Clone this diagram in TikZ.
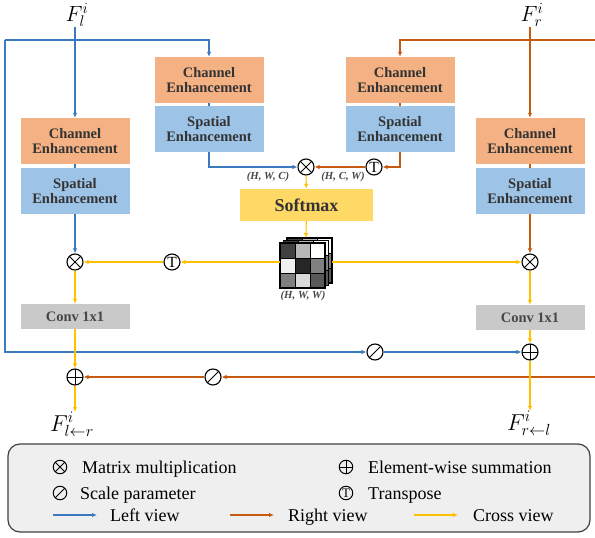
\RequirePackage{fix-cm}
\documentclass[tikz,border=0pt]{standalone}
\usepackage{fontspec}
\setmainfont{Liberation Serif}
\usetikzlibrary{arrows.meta,calc}

\definecolor{lview}{HTML}{3A7BBF}
\definecolor{rview}{HTML}{C55A11}
\definecolor{xview}{HTML}{FFC000}
\definecolor{chfill}{HTML}{F4B183}
\definecolor{spfill}{HTML}{9DC3E6}
\definecolor{smfill}{HTML}{FFD966}
\definecolor{cvfill}{HTML}{C9C9C9}
\definecolor{lgfill}{HTML}{EFEFEF}
\definecolor{boxtext}{HTML}{333333}

\tikzset{
  flow/.style={line width=1.1pt, -{Latex[length=5pt,width=4.5pt]}},
  link/.style={line width=1.1pt},
  block/.style={minimum width=109pt, minimum height=46pt, inner sep=0pt,
    align=center, text=boxtext, font=\bfseries\fontsize{14.5}{15.5}\selectfont},
  chan/.style={block, fill=chfill},
  spat/.style={block, fill=spfill},
  convbox/.style={block, fill=cvfill, minimum height=25pt, text=black!72},
  softbox/.style={fill=smfill, minimum width=133pt, minimum height=32pt, inner sep=0pt,
    text=boxtext, font=\bfseries\fontsize{18}{18}\selectfont},
  op/.style={circle, draw=black, line width=1.1pt, minimum size=16pt, inner sep=0pt},
  mulop/.style={op, path picture={
    \draw[line width=1pt] (path picture bounding box.north west) -- (path picture bounding box.south east)
      (path picture bounding box.north east) -- (path picture bounding box.south west);}},
  addop/.style={op, path picture={
    \draw[line width=1pt] (path picture bounding box.north) -- (path picture bounding box.south)
      (path picture bounding box.west) -- (path picture bounding box.east);}},
  sclop/.style={op, path picture={
    \draw[line width=1pt] (path picture bounding box.south west) -- (path picture bounding box.north east);}},
  trnop/.style={op, font=\fontsize{15.5}{15.5}\selectfont},
  keysym/.style={minimum size=13.5pt, line width=1pt},
  dimlabel/.style={inner sep=0pt, text=black!72, font=\bfseries\itshape\fontsize{10.8}{10.8}\selectfont},
  featlabel/.style={inner sep=0pt, font=\fontsize{22}{22}\selectfont},
  keytext/.style={inner sep=0pt, anchor=base west, font=\fontsize{18}{18}\selectfont},
  cell/.style={draw=black, line width=0.8pt},
}

\begin{document}
\begin{tikzpicture}[x=1pt,y=-1pt]
\useasboundingbox (0,0) rectangle (595,538);

% feature inputs
\node[featlabel, anchor=south] (Fl) at (77,27) {$F_l^i$};
\node[featlabel, anchor=south] (Fr) at (532,27) {$F_r^i$};

% enhancement blocks
\node[chan] (chL) at (75,141) {Channel\\Enhancement};
\node[spat] (spL) at (75,191) {Spatial\\Enhancement};
\node[chan] (chA) at (209,80) {Channel\\Enhancement};
\node[spat] (spA) at (209,129) {Spatial\\Enhancement};
\node[chan] (chB) at (400,80) {Channel\\Enhancement};
\node[spat] (spB) at (400,129) {Spatial\\Enhancement};
\node[chan] (chR) at (530,141) {Channel\\Enhancement};
\node[spat] (spR) at (530,191) {Spatial\\Enhancement};

% attention branch
\node[mulop] (mT) at (306,167) {};
\node[trnop] (tB) at (374,167) {T};
\node[dimlabel] at (268,177) {(H, W, C)};
\node[dimlabel] at (343,177) {(H, C, W)};
\node[softbox] (sm) at (306.5,205) {Softmax};

% attention map (stacked 3x3 slices)
\foreach \dx/\dy in {7/-5, 3.5/-2.5, 0/0} {
  \foreach \r/\c/\g in {0/0/75, 0/1/28, 0/2/0, 1/0/6, 1/1/85, 1/2/50, 2/0/50, 2/1/15, 2/2/65}
    \filldraw[cell, fill=black!\g] ({280+\dx+15*\c},{243+\dy+15*\r}) rectangle ++(15,15);
  \draw[line width=1.1pt] ({280+\dx},{243+\dy}) rectangle ++(45,45);
}
\node[minimum size=45pt, inner sep=0pt] (cube) at (302.5,265.5) {};
\coordinate (cubeT) at (306,238);
\coordinate (cubeR) at (332,262);
\node[dimlabel] at (303,296) {(H, W, W)};

% fusion operators
\node[mulop] (mL) at (75,262) {};
\node[trnop] (tL) at (172,262) {T};
\node[mulop] (mR) at (530,262) {};
\node[convbox] (cvL) at (75,316.5) {Conv 1x1};
\node[convbox] (cvR) at (530,317.5) {Conv 1x1};
\node[addop] (pR) at (530,352) {};
\node[sclop] (sR) at (375,352) {};
\node[addop] (pL) at (75,377) {};
\node[sclop] (sL) at (213,377) {};

% outputs
\node[featlabel, anchor=north, font=\fontsize{23}{23}\selectfont] (FoL) at (72,412) {$F_{l\leftarrow r}^i$};
\node[featlabel, anchor=north, font=\fontsize{23}{23}\selectfont] (FoR) at (529,411) {$F_{r\leftarrow l}^i$};

% left view
\coordinate (bc) at (5,40);
\draw[flow, lview] (chL.north |- Fl.south) -- (chL.north);
\draw[flow, lview] (bc) -| (chA.north);
\draw[flow, lview] (bc) |- (sR);
\draw[flow, lview] (sR) -- (pR);
\draw[link, lview] (chL.south) -- (spL.north);
\draw[flow, lview] (spL.south) -- (mL);
\draw[link, lview] (chA.south) -- (spA.north);
\draw[flow, lview] (spA.south) |- (mT);

% right view
\coordinate (oc) at (598,40);
\draw[flow, rview] (chR.north |- Fr.south) -- (chR.north);
\draw[flow, rview] (oc) -| (chB.north);
\draw[flow, rview] (oc) |- (sL);
\draw[flow, rview] (sL) -- (pL);
\draw[link, rview] (chB.south) -- (spB.north);
\draw[flow, rview] (spB.south) |- (tB);
\draw[flow, rview] (tB) -- (mT);
\draw[link, rview] (chR.south) -- (spR.north);
\draw[flow, rview] (spR.south) -- (mR);

% cross view
\draw[flow, xview] (mT) -- (sm);
\draw[flow, xview] (sm) -- (cubeT);
\draw[flow, xview] (cube.west |- tL) -- (tL);
\draw[flow, xview] (tL) -- (mL);
\draw[flow, xview] (cubeR) -- (mR);
\draw[flow, xview] (mL) -- (cvL);
\draw[flow, xview] (cvL) -- (pL);
\draw[flow, xview] (pL) -- (pL |- FoL.north);
\draw[flow, xview] (mR) -- (cvR);
\draw[flow, xview] (cvR) -- (pR);
\draw[flow, xview] (pR) -- (pR |- FoR.north);

% legend
\node[draw=black!75, line width=1.2pt, rounded corners=12pt, fill=lgfill,
      minimum width=582pt, minimum height=88pt] (lg) at (299,488) {};
\node[mulop, keysym] (k1) at (60,467) {};
\node[keytext] at (82,473) {Matrix multiplication};
\node[sclop, keysym] (k2) at (60,493) {};
\node[keytext] at (80,499) {Scale parameter};
\node[addop, keysym] (k3) at (346,467) {};
\node[keytext] at (368,473) {Element-wise summation};
\node[trnop, keysym, font=\fontsize{13}{13}\selectfont] (k4) at (346,493) {T};
\node[keytext] at (368,499) {Transpose};
\coordinate (la) at (53,515);  \coordinate (lb) at (97,515);
\coordinate (ra) at (230,515); \coordinate (rb) at (274,515);
\coordinate (xa) at (414,515); \coordinate (xb) at (458,515);
\draw[flow, lview] (la) -- (lb);
\draw[flow, rview] (ra) -- (rb);
\draw[flow, xview] (xa) -- (xb);
\node[keytext] at (110,521) {Left view};
\node[keytext] at (288,521) {Right view};
\node[keytext] at (473,521) {Cross view};
\end{tikzpicture}
\end{document}
